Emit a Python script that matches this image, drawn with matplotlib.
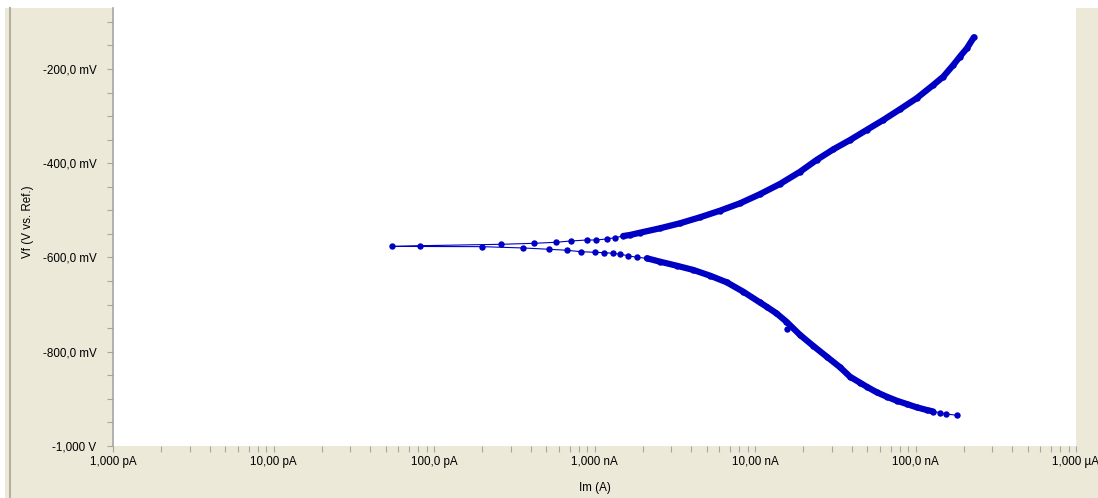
import numpy as np
import matplotlib.pyplot as plt
from matplotlib.lines import Line2D
from matplotlib.patches import Rectangle
from matplotlib.ticker import FixedLocator, LogLocator, NullFormatter

plt.rcParams['font.family'] = ['Liberation Sans', 'DejaVu Sans']

# cathodic branch, scan order (A, mV)
im_cath = np.array([182e-9, 156e-9, 142e-9, 129e-9, 117.5e-9, 101.6e-9, 88.2e-9, 76.4e-9,
                    66.2e-9, 57.3e-9, 49.7e-9, 45.1e-9, 39.1e-9, 33.9e-9, 28.0e-9, 23.1e-9,
                    19.1e-9, 15.7e-9, 13.6e-9, 11.8e-9, 10.7e-9, 8.45e-9, 6.66e-9, 5.25e-9,
                    4.13e-9, 3.25e-9, 2.56e-9, 2.12e-9, 1.83e-9, 1.62e-9, 1.44e-9, 1.31e-9,
                    1.146e-9, 1.007e-9, 820e-12, 677e-12, 523e-12, 360e-12, 198e-12])
vf_cath = np.array([-934.9, -932.1, -929.3, -926.8, -923.6, -917.9, -910.9, -903.9,
                    -895.4, -886.0, -874.2, -865.7, -853.0, -833.0, -810.5, -787.8,
                    -764.5, -736.2, -718.4, -704.4, -695.1, -672.6, -652.6, -638.6,
                    -626.5, -617.4, -608.9, -601.7, -599.6, -596.2, -593.2, -591.1,
                    -589.8, -589.0, -587.7, -584.7, -582.6, -579.8, -577.0])

# around Ecorr
im_corr = np.array([55e-12, 82e-12])
vf_corr = np.array([-576.5, -575.0])

# anodic branch
im_anod = np.array([261e-12, 422e-12, 575e-12, 711e-12, 894e-12, 1.02e-9, 1.19e-9, 1.34e-9,
                    1.51e-9, 1.66e-9, 1.92e-9, 2.56e-9, 3.41e-9, 4.54e-9, 6.05e-9, 8.07e-9,
                    10.7e-9, 14.3e-9, 19.1e-9, 24.2e-9, 30.8e-9, 39.1e-9, 49.6e-9, 63e-9,
                    80e-9, 101.6e-9, 129e-9, 149e-9, 172e-9, 189e-9, 209e-9, 231e-9])
vf_anod = np.array([-572.0, -569.9, -567.7, -565.0, -562.9, -562.9, -560.7, -558.0,
                    -554.4, -552.3, -547.4, -538.0, -527.4, -514.7, -500.7, -485.0,
                    -465.9, -444.0, -418.0, -393.0, -370.4, -350.7, -329.4, -308.2,
                    -285.5, -262.2, -234.0, -216.3, -191.5, -173.9, -156.1, -132.8])

# stray reading off the cathodic curve
im_odd = np.array([15.9e-9])
vf_odd = np.array([-751.7])

x_ticks = [1e-12, 1e-11, 1e-10, 1e-9, 1e-8, 1e-7, 1e-6]
x_labels = ['1,000 pA', '10,00 pA', '100,0 pA', '1,000 nA', '10,00 nA', '100,0 nA', '1,000 \u00b5A']
y_ticks = [-1000, -800, -600, -400, -200]
y_labels = ['-1,000 V', '-800,0 mV', '-600,0 mV', '-400,0 mV', '-200,0 mV']

im = np.concatenate([im_cath, im_corr, im_anod])
vf = np.concatenate([vf_cath, vf_corr, vf_anod])

W, H = 1098, 498
beige = '#ece9d8'
blue = '#0000c4'
grey = '#a5a5a5'

fig = plt.figure(figsize=(W / 100, H / 100), dpi=100, facecolor='white')
fig.patches.append(Rectangle((5 / W, 0), 1 - 5 / W, 1 - 8 / H, transform=fig.transFigure,
                             facecolor=beige, edgecolor='none', zorder=-10))
fig.lines.append(Line2D([10 / W, 10 / W], [0, 1 - 8 / H], transform=fig.transFigure,
                        color='#b4b0a0', lw=1.5))

ax = fig.add_axes([113 / W, 52 / H, (1076 - 113) / W, (446 - 8) / H])
ax.set_facecolor('white')
ax.set_xscale('log')
ax.set_xlim(1e-12, 1e-6)
ax.set_ylim(-1000, -70.6)

# thin connecting line with dots, thick band where the dots run together
ax.plot(im, vf, '-', color=blue, lw=0.8, marker='o', ms=4.6, mew=0)
ncath = len(im_cath)
nstart = ncath + len(im_corr)
band = dict(color=blue, lw=4.5, solid_capstyle='round', solid_joinstyle='round')
ax.plot(im[3:ncath - 11], vf[3:ncath - 11], '-', **band)
ax.plot(im[nstart + 8:], vf[nstart + 8:], '-', **band)
ax.plot(im_odd, vf_odd, 'o', color=blue, ms=4.6, mew=0)

for side in ['top', 'right', 'bottom']:
    ax.spines[side].set_visible(False)
ax.spines['left'].set_color(grey)
ax.spines['left'].set_linewidth(1.2)

ax.xaxis.set_major_locator(FixedLocator(x_ticks))
ax.set_xticklabels(x_labels)
ax.xaxis.set_minor_locator(LogLocator(base=10, subs=np.arange(2, 10), numticks=20))
ax.xaxis.set_minor_formatter(NullFormatter())
ax.set_yticks(y_ticks)
ax.set_yticklabels(y_labels)
ax.yaxis.set_minor_locator(FixedLocator(np.arange(-950, -70, 50)))

ax.tick_params(axis='both', which='both', direction='out', length=4, width=0.8,
               color=grey, labelsize=8.4, labelcolor='black')
ax.tick_params(axis='x', which='both', pad=3)
ax.tick_params(axis='y', which='both', pad=8)

fig.text(595 / W, 1 - 488 / H, 'Im (A)', ha='center', va='center', fontsize=8.4)
fig.text(28 / W, 1 - 222 / H, 'Vf (V vs. Ref.)', ha='center', va='center',
         rotation=90, fontsize=8.4)

fig.savefig('out.png', dpi=100, facecolor=fig.get_facecolor())
